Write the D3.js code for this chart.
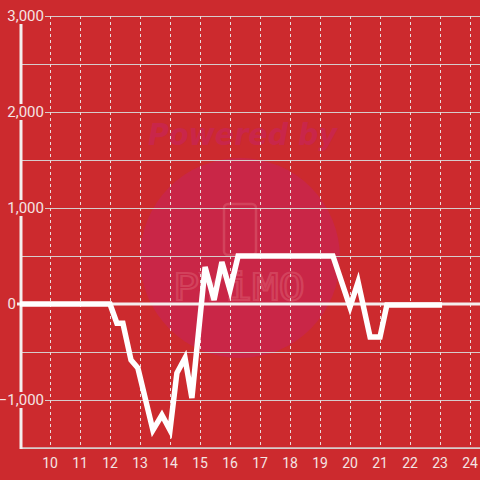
<!DOCTYPE html>
<html><head><meta charset="utf-8">
<script src="https://cdn.jsdelivr.net/npm/d3@7"></script>
<style>html,body{margin:0;padding:0;background:#cc2a2e;}svg{display:block;}</style>
</head><body>
<script>
const xTicks = [10,11,12,13,14,15,16,17,18,19,20,21,22,23,24];
const yTicks = [-1000,0,1000,2000,3000];
const yGrid = [-1500,-1000,-500,0,500,1000,1500,2000,2500,3000];
const hours = [9.0,12.0,12.23,12.43,12.7,12.93,13.43,13.73,14.0,14.23,14.5,14.73,15.17,15.47,15.73,16.0,16.27,19.43,20.0,20.27,20.67,21.0,21.23,23.07];
const values = [0,0,-200,-200,-583,-667,-1313,-1156,-1313,-719,-563,-979,385,42,438,146,500,500,-31,229,-344,-344,-10,-10];

const W=480,H=480;
const svg=d3.select("body").append("svg").attr("width",W).attr("height",H);
svg.append("rect").attr("width",W).attr("height",H).attr("fill","#cc2a2e");
const x=d3.scaleLinear().domain([8.9,24.3333]).range([17,480]);
const y=d3.scaleLinear().domain([-1500,3000]).range([448,16]);
const font="Roboto, 'Open Sans', sans-serif";

// watermark
const wm=svg.append("g");
wm.append("circle").attr("cx",240).attr("cy",258).attr("r",100).attr("fill","#c9264a").attr("opacity",0.9);
wm.append("text").attr("x",148).attr("y",145).attr("text-anchor","start").attr("font-family","'DejaVu Sans'")
  .attr("font-size",30).attr("font-weight","bold").attr("font-style","oblique").attr("fill","#c9264a")
  .attr("textLength",189).attr("lengthAdjust","spacingAndGlyphs").text("Powered by");
wm.append("rect").attr("x",224).attr("y",204).attr("width",32).attr("height",51).attr("rx",4)
  .attr("fill","none").attr("stroke","#d9566a").attr("stroke-width",2.5).attr("opacity",0.6);
wm.append("text").attr("x",173).attr("y",300).attr("text-anchor","start").attr("font-family","'DejaVu Sans Mono', monospace")
  .attr("font-size",37).attr("fill","none").attr("stroke","#d9566a").attr("stroke-width",2).attr("opacity",0.6)
  .attr("textLength",132).attr("lengthAdjust","spacingAndGlyphs").text("PYiMO");

// horizontal grid
svg.append("g").selectAll("line").data(yGrid).join("line")
  .attr("x1",21).attr("x2",W).attr("y1",d=>y(d)+0.5).attr("y2",d=>y(d)+0.5)
  .attr("stroke","#d6cccc").attr("stroke-width",1.2);
// vertical dashed grid
svg.append("g").selectAll("line").data(xTicks).join("line")
  .attr("x1",d=>Math.round(x(d))+0.5).attr("x2",d=>Math.round(x(d))+0.5).attr("y1",16).attr("y2",447)
  .attr("stroke","#eadcdc").attr("stroke-width",1).attr("stroke-dasharray","3,3");
// bottom axis
svg.append("line").attr("x1",21).attr("x2",W).attr("y1",448).attr("y2",448).attr("stroke","#d8cccc").attr("stroke-width",1.5);
// left axis
svg.append("line").attr("x1",21).attr("x2",21).attr("y1",16).attr("y2",449).attr("stroke","#f4eeee").attr("stroke-width",3);
// zero line
svg.append("line").attr("x1",17).attr("x2",W).attr("y1",y(0)).attr("y2",y(0)).attr("stroke","#f4eeee").attr("stroke-width",3);

// data line
const line=d3.line().x((d,i)=>x(hours[i])).y(d=>y(d));
svg.append("path").attr("d",line(values)).attr("fill","none").attr("stroke","#ffffff").attr("stroke-width",5.5).attr("stroke-linejoin","miter");

// y labels with background
const yl=svg.append("g").selectAll("g").data(yTicks.filter(d=>d!==0)).join("g");
yl.append("rect").attr("x",2).attr("y",d=>y(d)-8).attr("width",43).attr("height",16).attr("fill","#cc2a2e");
yl.append("text").attr("x",44).attr("y",d=>y(d)).attr("dy","0.35em").attr("text-anchor","end")
  .attr("font-family",font).attr("font-size",15).attr("fill","#f4e4e4").text(d=>d3.format(",")(d));
svg.append("rect").attr("x",4).attr("y",y(0)-8).attr("width",13).attr("height",16).attr("fill","#cc2a2e");
svg.append("text").attr("x",16).attr("y",y(0)).attr("dy","0.35em").attr("text-anchor","end")
  .attr("font-family",font).attr("font-size",15).attr("fill","#f4e4e4").text(d3.format(",")(yTicks[1]));
// x labels
svg.append("g").selectAll("text").data(xTicks).join("text")
  .attr("x",d=>x(d)).attr("y",463).attr("dy","0.35em").attr("text-anchor","middle")
  .attr("font-family",font).attr("font-size",14).attr("fill","#f4e4e4").text(d=>d);
</script>
</body></html>
